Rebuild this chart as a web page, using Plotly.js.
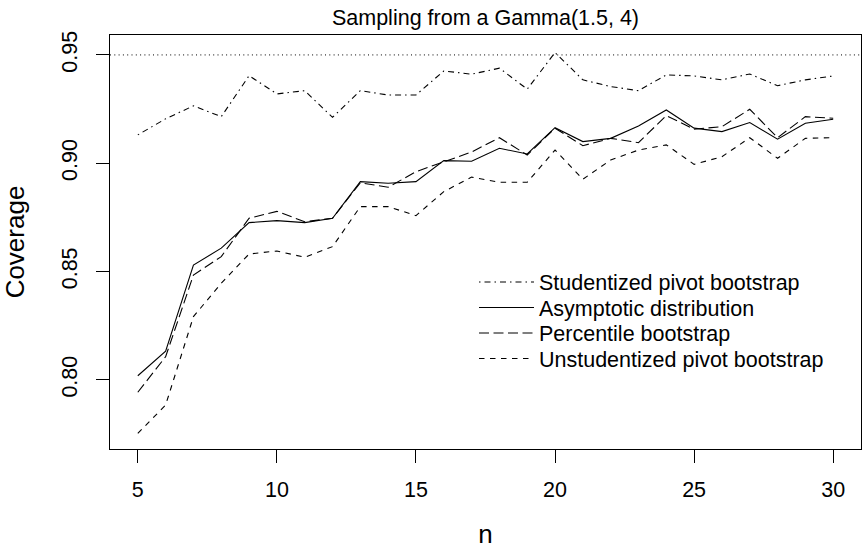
<!DOCTYPE html>
<html>
<head>
<meta charset="utf-8">
<script src="https://cdn.plot.ly/plotly-3.0.1.min.js"></script>
<style>html,body{margin:0;padding:0;background:#fff;}#chart{width:862px;height:549px;}</style>
</head>
<body>
<div id="chart"></div>
<script>
const n = [5,6,7,8,9,10,11,12,13,14,15,16,17,18,19,20,21,22,23,24,25,26,27,28,29,30];
const studentized = [0.9131,0.9205,0.9265,0.9215,0.9404,0.9320,0.9335,0.9212,0.9335,0.9315,0.9315,0.9426,0.9411,0.9439,0.9342,0.9511,0.9385,0.9354,0.9335,0.9408,0.9403,0.9385,0.9412,0.9358,0.9385,0.9403];
const asymptotic = [0.8019,0.8133,0.8530,0.8608,0.8726,0.8735,0.8726,0.8746,0.8915,0.8908,0.8915,0.9012,0.9009,0.9069,0.9043,0.9164,0.9100,0.9115,0.9172,0.9246,0.9162,0.9146,0.9188,0.9111,0.9185,0.9203];
const percentile = [0.7943,0.8107,0.8484,0.8569,0.8746,0.8778,0.8730,0.8746,0.8910,0.8889,0.8961,0.9007,0.9052,0.9118,0.9038,0.9162,0.9081,0.9115,0.9095,0.9220,0.9157,0.9169,0.9249,0.9118,0.9215,0.9208];
const unstudentized = [0.7753,0.7884,0.8292,0.8446,0.8581,0.8595,0.8566,0.8615,0.8800,0.8800,0.8758,0.8869,0.8936,0.8912,0.8912,0.9061,0.8926,0.9015,0.9061,0.9085,0.8995,0.9030,0.9118,0.9023,0.9115,0.9118];
const nominal = 0.95;
const seriesNames = ['Studentized pivot bootstrap','Asymptotic distribution','Percentile bootstrap','Unstudentized pivot bootstrap'];
const xTicks = [5,10,15,20,25,30];
const yTicks = [0.80,0.85,0.90,0.95];
const yTickLabels = ["0.80","0.85","0.90","0.95"];

const FONT = '"Liberation Sans", Arial, Helvetica, sans-serif';
const FS = 21.5;
const line = (dash) => ({color:'#000', width:1.1, dash:dash});

const traces = [
  {x:n, y:studentized, mode:'lines', name:seriesNames[0], legend:'legend', line:line('1.5px,4px,6px,4px')},
  {x:n, y:asymptotic, mode:'lines', name:seriesNames[1], legend:'legend2', line:line('solid')},
  {x:n, y:percentile, mode:'lines', name:seriesNames[2], legend:'legend3', line:line('10px,4.5px')},
  {x:n, y:unstudentized, mode:'lines', name:seriesNames[3], legend:'legend4', line:line('5.5px,5.5px')}
];

// legend rows (pixel centres) converted to paper coordinates of the plot area (top 35, bottom 449)
const rowY = [282, 307.5, 333, 358.5];
const legendBase = (py) => ({x:(474-110)/751, xanchor:'left', y:(449-py)/414, yanchor:'middle',
  bgcolor:'rgba(0,0,0,0)', borderwidth:0, itemwidth:55, font:{size:FS}});

const layout = {
  width:862, height:549,
  margin:{l:110, r:1, t:35, b:100},
  paper_bgcolor:'#fff', plot_bgcolor:'#fff',
  font:{family:FONT, size:FS, color:'#000'},
  title:{text:'Sampling from a Gamma(1.5, 4)', xref:'paper', x:0.5, xanchor:'center', yref:'container', y:1-17/549, yanchor:'middle', font:{size:FS}},
  showlegend:true,
  legend:legendBase(rowY[0]),
  legend2:legendBase(rowY[1]),
  legend3:legendBase(rowY[2]),
  legend4:legendBase(rowY[3]),
  xaxis:{range:[4,31], tickmode:'array', tickvals:xTicks, ticks:'outside', ticklen:13, tickcolor:'#000', tickwidth:1,
         showline:true, mirror:true, linecolor:'#000', linewidth:1, showgrid:false, zeroline:false,
         ticklabelstandoff:8,
         title:{text:'n', standoff:30}, tickfont:{size:FS}},
  yaxis:{range:[0.7681,0.9592], tickmode:'array', tickvals:yTicks, ticktext:yTickLabels, tickangle:-90, ticks:'outside', ticklen:13, tickcolor:'#000', tickwidth:1,
         showline:true, mirror:true, linecolor:'#000', linewidth:1, showgrid:false, zeroline:false,
         ticklabelstandoff:10,
         title:{text:'Coverage', standoff:26}, tickfont:{size:FS}},
  shapes:[{type:'line', xref:'paper', x0:0, x1:1, yref:'y', y0:nominal, y1:nominal, line:{color:'#000', width:1, dash:'1px,3.3px'}}]
};

Plotly.newPlot('chart', traces, layout, {staticPlot:true, displayModeBar:false});
</script>
</body>
</html>
